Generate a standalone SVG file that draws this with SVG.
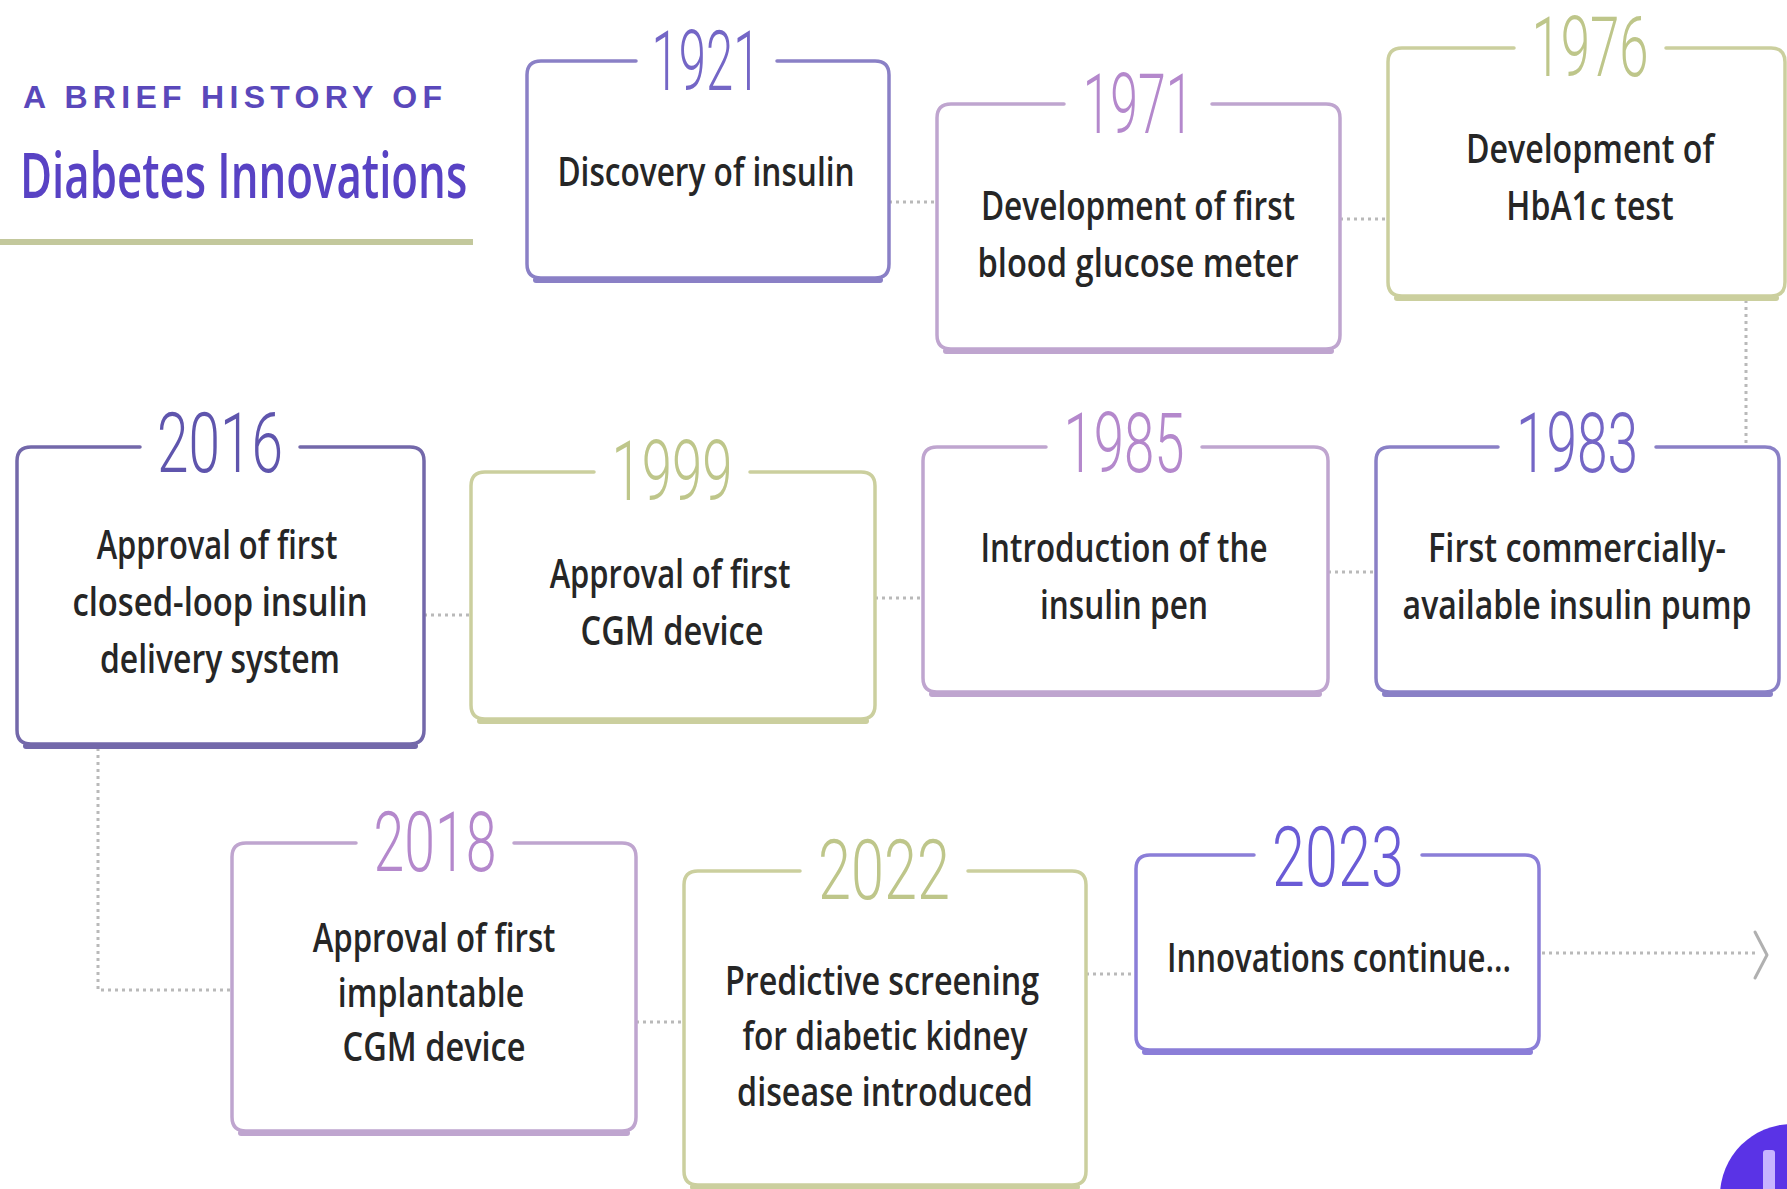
<svg xmlns="http://www.w3.org/2000/svg" width="1787" height="1189" viewBox="0 0 1787 1189">
<style>
.bx{fill:#ffffff;stroke-width:3.5;stroke-linecap:round;stroke-linejoin:round}
.sh{fill:none;stroke-width:6;stroke-linecap:round}
.blue .bx,.blue .sh{stroke:#8a80c6}
.blue .yr{fill:#7466c6}
.navy .bx,.navy .sh{stroke:#7368aa}
.navy .yr{fill:#5f55ad}
.vio .bx,.vio .sh{stroke:#8b7ed8}
.vio .yr{fill:#6a5bd6}
.pink .bx,.pink .sh{stroke:#bfa5cf}
.pink .yr{fill:#b488cc}
.olive .bx,.olive .sh{stroke:#cbcf9e}
.olive .yr{fill:#bec68a}
.yr{font-family:Roboto,"Liberation Sans",sans-serif;font-weight:300;font-size:84px;text-anchor:middle}
.tx{font-family:"Open Sans","Liberation Sans",sans-serif;font-weight:600;font-size:40px;fill:#262626;text-anchor:middle}
.cn{fill:none;stroke:#b9b9b9;stroke-width:3;stroke-dasharray:3 4}
</style>
<rect width="1787" height="1189" fill="#ffffff"/>

<g id="title">
<text x="23" y="108" font-family="'Liberation Sans',sans-serif" font-weight="bold" font-size="32" fill="#5a48bb" textLength="419" lengthAdjust="spacing">A BRIEF HISTORY OF</text>
<text transform="translate(20 198) scale(0.65 1)" x="0" y="0" font-family="'Open Sans','Liberation Sans',sans-serif" font-weight="600" font-size="64" fill="#5842c4" textLength="688" lengthAdjust="spacingAndGlyphs">Diabetes Innovations</text>
<rect x="0" y="239" width="473" height="6" fill="#c3c89c"/>
</g>

<g id="connectors">
<path class="cn" d="M889 202H937"/>
<path class="cn" d="M1340 219H1388"/>
<path class="cn" d="M1746 300V447"/>
<path class="cn" d="M1328 572H1376"/>
<path class="cn" d="M875 598H923"/>
<path class="cn" d="M424 615H471"/>
<path class="cn" d="M98 748V990H232"/>
<path class="cn" d="M636 1022H684"/>
<path class="cn" d="M1086 974H1136"/>
<path class="cn" d="M1542 953H1755"/>
<path d="M1755 932L1767 955L1755 978" fill="none" stroke="#b0b0b0" stroke-width="3" stroke-linecap="round" stroke-linejoin="round"/>
</g>

<g id="n1921" class="blue">
<path class="bx" d="M777 61H875Q889 61 889 75V264Q889 278 875 278H541Q527 278 527 264V75Q527 61 541 61H636"/>
<path class="sh" d="M536 280H880"/>
<text class="yr" transform="translate(706 90) scale(0.64 1)" x="0" y="0" textLength="170" lengthAdjust="spacingAndGlyphs">1921</text>
<text class="tx" transform="translate(706 186) scale(0.68 1)" x="0" y="0" textLength="437" lengthAdjust="spacingAndGlyphs">Discovery of insulin</text>
</g>

<g id="n1971" class="pink">
<path class="bx" d="M1212 104H1326Q1340 104 1340 118V335Q1340 349 1326 349H951Q937 349 937 335V118Q937 104 951 104H1064"/>
<path class="sh" d="M946 351H1331"/>
<text class="yr" transform="translate(1138 133) scale(0.64 1)" x="0" y="0" textLength="173" lengthAdjust="spacingAndGlyphs">1971</text>
<text class="tx" transform="translate(1138 220) scale(0.68 1)" x="0" y="0" textLength="462" lengthAdjust="spacingAndGlyphs">Development of first</text>
<text class="tx" transform="translate(1138 277) scale(0.68 1)" x="0" y="0" textLength="472" lengthAdjust="spacingAndGlyphs">blood glucose meter</text>
</g>

<g id="n1976" class="olive">
<path class="bx" d="M1666 48H1771Q1785 48 1785 62V282Q1785 296 1771 296H1402Q1388 296 1388 282V62Q1388 48 1402 48H1514"/>
<path class="sh" d="M1397 298H1776"/>
<text class="yr" transform="translate(1590 76) scale(0.64 1)" x="0" y="0" textLength="183" lengthAdjust="spacingAndGlyphs">1976</text>
<text class="tx" transform="translate(1590 163) scale(0.68 1)" x="0" y="0" textLength="365" lengthAdjust="spacingAndGlyphs">Development of</text>
<text class="tx" transform="translate(1590 220) scale(0.68 1)" x="0" y="0" textLength="246" lengthAdjust="spacingAndGlyphs">HbA1c test</text>
</g>

<g id="n1983" class="blue">
<path class="bx" d="M1656 447H1765Q1779 447 1779 461V678Q1779 692 1765 692H1390Q1376 692 1376 678V461Q1376 447 1390 447H1498"/>
<path class="sh" d="M1385 694H1770"/>
<text class="yr" transform="translate(1577 472) scale(0.64 1)" x="0" y="0" textLength="191" lengthAdjust="spacingAndGlyphs">1983</text>
<text class="tx" transform="translate(1577 562) scale(0.68 1)" x="0" y="0" textLength="438" lengthAdjust="spacingAndGlyphs">First commercially-</text>
<text class="tx" transform="translate(1577 619) scale(0.68 1)" x="0" y="0" textLength="513" lengthAdjust="spacingAndGlyphs">available insulin pump</text>
</g>

<g id="n1985" class="pink">
<path class="bx" d="M1202 447H1314Q1328 447 1328 461V678Q1328 692 1314 692H937Q923 692 923 678V461Q923 447 937 447H1046"/>
<path class="sh" d="M932 694H1319"/>
<text class="yr" transform="translate(1124 472) scale(0.64 1)" x="0" y="0" textLength="189" lengthAdjust="spacingAndGlyphs">1985</text>
<text class="tx" transform="translate(1124 562) scale(0.68 1)" x="0" y="0" textLength="422" lengthAdjust="spacingAndGlyphs">Introduction of the</text>
<text class="tx" transform="translate(1124 619) scale(0.68 1)" x="0" y="0" textLength="247" lengthAdjust="spacingAndGlyphs">insulin pen</text>
</g>

<g id="n1999" class="olive">
<path class="bx" d="M750 472H861Q875 472 875 486V705Q875 719 861 719H485Q471 719 471 705V486Q471 472 485 472H594"/>
<path class="sh" d="M480 721H866"/>
<text class="yr" transform="translate(672 500) scale(0.64 1)" x="0" y="0" textLength="189" lengthAdjust="spacingAndGlyphs">1999</text>
<text class="tx" transform="translate(670 588) scale(0.68 1)" x="0" y="0" textLength="354" lengthAdjust="spacingAndGlyphs">Approval of first</text>
<text class="tx" transform="translate(672 645) scale(0.68 1)" x="0" y="0" textLength="269" lengthAdjust="spacingAndGlyphs">CGM device</text>
</g>

<g id="n2016" class="navy">
<path class="bx" d="M300 447H410Q424 447 424 461V730Q424 744 410 744H31Q17 744 17 730V461Q17 447 31 447H140"/>
<path class="sh" d="M26 746H415"/>
<text class="yr" transform="translate(220 472) scale(0.64 1)" x="0" y="0" textLength="197" lengthAdjust="spacingAndGlyphs">2016</text>
<text class="tx" transform="translate(217 559) scale(0.68 1)" x="0" y="0" textLength="354" lengthAdjust="spacingAndGlyphs">Approval of first</text>
<text class="tx" transform="translate(220 616) scale(0.68 1)" x="0" y="0" textLength="434" lengthAdjust="spacingAndGlyphs">closed-loop insulin</text>
<text class="tx" transform="translate(220 673) scale(0.68 1)" x="0" y="0" textLength="353" lengthAdjust="spacingAndGlyphs">delivery system</text>
</g>

<g id="n2018" class="pink">
<path class="bx" d="M514 843H622Q636 843 636 857V1117Q636 1131 622 1131H246Q232 1131 232 1117V857Q232 843 246 843H356"/>
<path class="sh" d="M241 1133H627"/>
<text class="yr" transform="translate(435 871) scale(0.64 1)" x="0" y="0" textLength="192" lengthAdjust="spacingAndGlyphs">2018</text>
<text class="tx" transform="translate(434 952) scale(0.68 1)" x="0" y="0" textLength="357" lengthAdjust="spacingAndGlyphs">Approval of first</text>
<text class="tx" transform="translate(431 1007) scale(0.68 1)" x="0" y="0" textLength="274" lengthAdjust="spacingAndGlyphs">implantable</text>
<text class="tx" transform="translate(434 1061) scale(0.68 1)" x="0" y="0" textLength="269" lengthAdjust="spacingAndGlyphs">CGM device</text>
</g>

<g id="n2022" class="olive">
<path class="bx" d="M968 871H1072Q1086 871 1086 885V1171Q1086 1185 1072 1185H698Q684 1185 684 1171V885Q684 871 698 871H800"/>
<path class="sh" d="M693 1187H1077"/>
<text class="yr" transform="translate(884 899) scale(0.64 1)" x="0" y="0" textLength="206" lengthAdjust="spacingAndGlyphs">2022</text>
<text class="tx" transform="translate(882 995) scale(0.68 1)" x="0" y="0" textLength="462" lengthAdjust="spacingAndGlyphs">Predictive screening</text>
<text class="tx" transform="translate(885 1050) scale(0.68 1)" x="0" y="0" textLength="419" lengthAdjust="spacingAndGlyphs">for diabetic kidney</text>
<text class="tx" transform="translate(885 1106) scale(0.68 1)" x="0" y="0" textLength="435" lengthAdjust="spacingAndGlyphs">disease introduced</text>
</g>

<g id="n2023" class="vio">
<path class="bx" d="M1422 855H1525Q1539 855 1539 869V1036Q1539 1050 1525 1050H1150Q1136 1050 1136 1036V869Q1136 855 1150 855H1254"/>
<path class="sh" d="M1145 1052H1530"/>
<text class="yr" transform="translate(1338 886) scale(0.64 1)" x="0" y="0" textLength="206" lengthAdjust="spacingAndGlyphs">2023</text>
<text class="tx" transform="translate(1339 972) scale(0.68 1)" x="0" y="0" textLength="506" lengthAdjust="spacingAndGlyphs">Innovations continue...</text>
</g>

<g id="logo">
<circle cx="1792" cy="1196" r="72" fill="#5a33e6"/>
<rect x="1763" y="1150" width="12" height="45" rx="3" fill="#c7b4ff"/>
</g>
</svg>
